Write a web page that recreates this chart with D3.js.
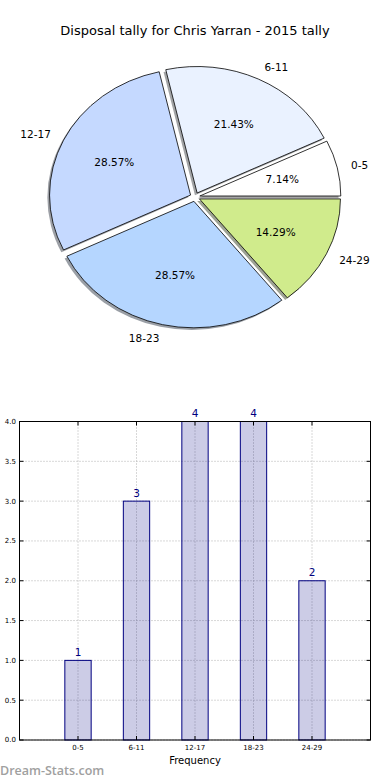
<!DOCTYPE html>
<html><head><meta charset="utf-8">
<script src="https://cdn.jsdelivr.net/npm/d3@7"></script>
<style>body{margin:0;background:#fff;}svg{display:block;font-family:"DejaVu Sans",sans-serif;}</style>
</head><body>
<svg id="c" width="390" height="780"></svg>
<script>
const title = "Disposal tally for Chris Yarran - 2015 tally";
const categories = ["0-5","6-11","12-17","18-23","24-29"];
const counts = [1,3,4,4,2];
const pieColors = ["#ffffff","#eaf2ff","#c5d9ff","#b5d6ff","#d0eb8c"];
const yTicks = [0,0.5,1,1.5,2,2.5,3,3.5,4];
const xLabel = "Frequency";
const watermark = "Dream-Stats.com";

const svg = d3.select("#c");

// Title
svg.append("text").attr("x",195).attr("y",34.5).attr("text-anchor","middle")
  .attr("font-size",13).attr("fill","#000").text(title);

// Pie (elliptical, exploded, with shadow)
const cx=195, cy=197, rx=141, ry=126.5, explode=0.035;
const total = d3.sum(counts);
const pie = d3.pie().sort(null).startAngle(Math.PI/2).endAngle(Math.PI/2-2*Math.PI);
const arcs = pie(counts);
const arc = d3.arc().innerRadius(0).outerRadius(rx);
const sy = ry/rx;
const pg = svg.append("g");
arcs.forEach((a,i)=>{
  const mid = (a.startAngle+a.endAngle)/2;
  const ux = Math.sin(mid), uy = -Math.cos(mid);
  const ox = cx + explode*rx*ux, oy = cy + explode*ry*uy;
  const c = d3.rgb(pieColors[i]);
  const sc = d3.rgb(c.r*0.3,c.g*0.3,c.b*0.3);
  pg.append("path").attr("d",arc(a))
    .attr("transform",`translate(${ox-2.2},${oy+2.2}) scale(1,${sy})`)
    .attr("fill",sc).attr("fill-opacity",0.5);
  a._o=[ox,oy,ux,uy];
});
arcs.forEach((a,i)=>{
  const [ox,oy]=a._o;
  pg.append("path").attr("d",arc(a))
    .attr("transform",`translate(${ox},${oy}) scale(1,${sy})`)
    .attr("fill",pieColors[i]).attr("stroke","#000").attr("stroke-width",0.8)
    .attr("vector-effect","non-scaling-stroke");
});
arcs.forEach((a,i)=>{
  const [ox,oy,ux,uy]=a._o;
  const lx = ox + 1.1*rx*ux, ly = oy + 1.1*ry*uy + (uy>0?1.5:0);
  pg.append("text").attr("x",lx).attr("y",ly).attr("dy","0.35em")
    .attr("text-anchor", ux>0?"start":"end").attr("font-size",10.5).text(categories[i]);
  const px = ox + 0.6*rx*ux, py = oy + 0.6*ry*uy;
  pg.append("text").attr("x",px).attr("y",py).attr("dy","0.35em")
    .attr("text-anchor","middle").attr("font-size",10.5)
    .text((counts[i]/total*100).toFixed(2)+"%");
});

// Bar chart
const L=19.5, R=370.5, T=421.5, B=740;
const x = d3.scaleLinear().domain([-1,5]).range([L,R]);
const y = d3.scaleLinear().domain([0,4]).range([B,T]);
const bw = 0.45;
const bg = svg.append("g");
bg.selectAll(".hg").data(yTicks).enter().append("line")
  .attr("x1",L).attr("x2",R).attr("y1",d=>y(d)).attr("y2",d=>y(d))
  .attr("stroke","#b0b0b0").attr("stroke-width",1).attr("stroke-dasharray","1,2");
bg.selectAll(".vg").data(categories).enter().append("line")
  .attr("x1",(d,i)=>x(i)).attr("x2",(d,i)=>x(i)).attr("y1",T).attr("y2",B)
  .attr("stroke","#b0b0b0").attr("stroke-width",1).attr("stroke-dasharray","1,2");
bg.selectAll(".bar").data(counts).enter().append("rect")
  .attr("x",(d,i)=>x(i-bw/2)).attr("width",x(bw)-x(0))
  .attr("y",d=>y(d)).attr("height",d=>B-y(d))
  .attr("fill","#000080").attr("fill-opacity",0.2)
  .attr("stroke","#000080").attr("stroke-width",1);
bg.selectAll(".vl").data(counts).enter().append("text")
  .attr("x",(d,i)=>x(i)).attr("y",d=>y(d)-4.5).attr("text-anchor","middle")
  .attr("font-size",10.5).attr("fill","#000080").text(d=>d);
bg.append("rect").attr("x",L).attr("y",T).attr("width",R-L).attr("height",B-T)
  .attr("fill","none").attr("stroke","#000").attr("stroke-width",1);
yTicks.forEach(t=>{
  bg.append("line").attr("x1",L).attr("x2",L+4).attr("y1",y(t)).attr("y2",y(t)).attr("stroke","#000");
  bg.append("line").attr("x1",R-4).attr("x2",R).attr("y1",y(t)).attr("y2",y(t)).attr("stroke","#000");
});
categories.forEach((c,i)=>{
  bg.append("line").attr("x1",x(i)).attr("x2",x(i)).attr("y1",B).attr("y2",B-4).attr("stroke","#000");
  bg.append("line").attr("x1",x(i)).attr("x2",x(i)).attr("y1",T).attr("y2",T+4).attr("stroke","#000");
});
bg.selectAll(".yl").data(yTicks).enter().append("text")
  .attr("x",16).attr("y",d=>y(d)).attr("dy","0.35em").attr("text-anchor","end")
  .attr("font-size",7).text(d=>d.toFixed(1));
bg.selectAll(".xl").data(categories).enter().append("text")
  .attr("x",(d,i)=>x(i)).attr("y",748).attr("dy","0.35em").attr("text-anchor","middle")
  .attr("font-size",7).text(d=>d);
bg.append("text").attr("x",195).attr("y",764).attr("text-anchor","middle")
  .attr("font-size",10).text(xLabel);
svg.append("text").attr("x",0).attr("y",775).attr("font-size",12.5).attr("font-weight",600)
  .attr("font-family","'Open Sans',sans-serif")
  .attr("fill","#a0a0a0").text(watermark);
</script>
</body></html>
